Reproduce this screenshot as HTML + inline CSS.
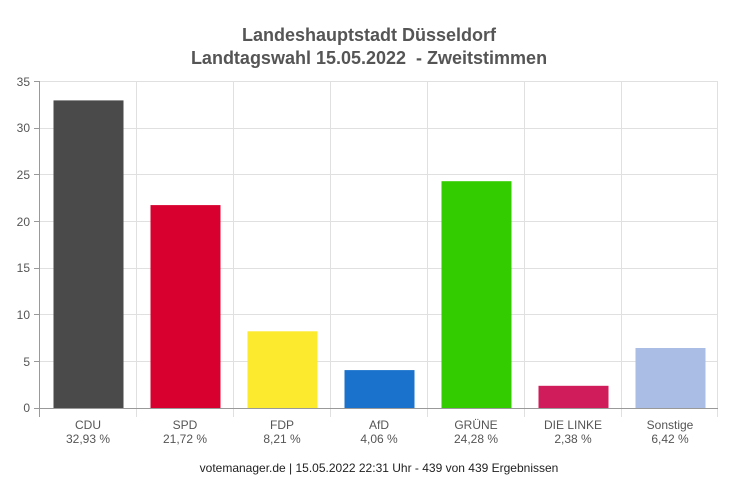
<!DOCTYPE html>
<html><head><meta charset="utf-8"><style>body{margin:0;background:#fff}svg{display:block}</style></head><body>
<svg width="738" height="496" xmlns="http://www.w3.org/2000/svg" font-family="Liberation Sans, Arial, sans-serif">
<rect width="738" height="496" fill="#fff"/>
<text x="369" y="41" text-anchor="middle" font-size="18" font-weight="bold" fill="#555">Landeshauptstadt Düsseldorf</text>
<text x="369" y="64" text-anchor="middle" font-size="18" font-weight="bold" fill="#555">Landtagswahl 15.05.2022 &#160;- Zweitstimmen</text>
<g stroke="#e0e0e0" stroke-width="1">
<line x1="40" y1="81.5" x2="718" y2="81.5"/>
<line x1="40" y1="128.5" x2="718" y2="128.5"/>
<line x1="40" y1="174.5" x2="718" y2="174.5"/>
<line x1="40" y1="221.5" x2="718" y2="221.5"/>
<line x1="40" y1="268.5" x2="718" y2="268.5"/>
<line x1="40" y1="314.5" x2="718" y2="314.5"/>
<line x1="40" y1="361.5" x2="718" y2="361.5"/>
<line x1="136.5" y1="81" x2="136.5" y2="417"/>
<line x1="233.5" y1="81" x2="233.5" y2="417"/>
<line x1="330.5" y1="81" x2="330.5" y2="417"/>
<line x1="427.5" y1="81" x2="427.5" y2="417"/>
<line x1="524.5" y1="81" x2="524.5" y2="417"/>
<line x1="621.5" y1="81" x2="621.5" y2="417"/>
<line x1="717.5" y1="81" x2="717.5" y2="417"/>
</g>
<g stroke="#999"><line x1="39.5" y1="81" x2="39.5" y2="417"/><line x1="34" y1="408.5" x2="718" y2="408.5"/>
<line x1="34" y1="81.5" x2="40" y2="81.5"/><line x1="34" y1="128.5" x2="40" y2="128.5"/><line x1="34" y1="174.5" x2="40" y2="174.5"/><line x1="34" y1="221.5" x2="40" y2="221.5"/><line x1="34" y1="268.5" x2="40" y2="268.5"/><line x1="34" y1="314.5" x2="40" y2="314.5"/><line x1="34" y1="361.5" x2="40" y2="361.5"/></g>
<g font-size="12" fill="#555" text-anchor="end">
<text x="30" y="86">35</text><text x="30" y="132">30</text><text x="30" y="179">25</text><text x="30" y="226">20</text><text x="30" y="272">15</text><text x="30" y="319">10</text><text x="30" y="366">5</text><text x="30" y="412">0</text>
</g>
<g>
<rect x="53.5" y="100.4" width="70" height="307.6" fill="#4a4a4a"/>
<rect x="150.5" y="205.1" width="70" height="202.9" fill="#d8002e"/>
<rect x="247.5" y="331.3" width="70" height="76.7" fill="#fbea2d"/>
<rect x="344.5" y="370.1" width="70" height="37.9" fill="#1a72cc"/>
<rect x="441.5" y="181.2" width="70" height="226.8" fill="#33cc00"/>
<rect x="538.5" y="385.8" width="70" height="22.2" fill="#d01c5a"/>
<rect x="635.5" y="348.0" width="70" height="60" fill="#aabde4"/>
</g>
<g font-size="12" fill="#555" text-anchor="middle">
<text x="88" y="429">CDU</text><text x="88" y="443">32,93 %</text>
<text x="185" y="429">SPD</text><text x="185" y="443">21,72 %</text>
<text x="282" y="429">FDP</text><text x="282" y="443">8,21 %</text>
<text x="379" y="429">AfD</text><text x="379" y="443">4,06 %</text>
<text x="476" y="429">GRÜNE</text><text x="476" y="443">24,28 %</text>
<text x="573" y="429">DIE LINKE</text><text x="573" y="443">2,38 %</text>
<text x="670" y="429">Sonstige</text><text x="670" y="443">6,42 %</text>
</g>
<text x="379" y="472" text-anchor="middle" font-size="12" fill="#222">votemanager.de | 15.05.2022 22:31 Uhr - 439 von 439 Ergebnissen</text>
</svg>
</body></html>
